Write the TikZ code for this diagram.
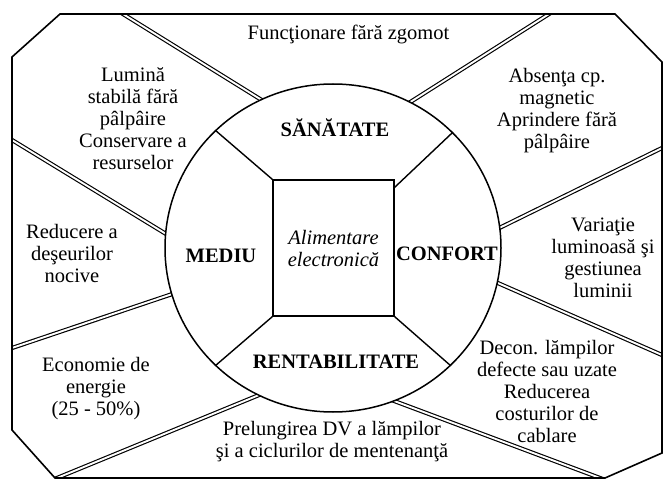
\documentclass[tikz,border=0pt]{standalone}
\usepackage{fontspec}
\setmainfont{Liberation Serif}
\usetikzlibrary{calc,shapes.geometric,backgrounds}
\begin{document}
\begin{tikzpicture}[x=1pt,y=-1pt,
  frame/.style={line width=1.6pt, line join=miter},
  spoke/.style={line width=1.15pt, double=white, double distance=1.9pt},
  rim/.style={draw, line width=1.5pt, fill=white},
  divider/.style={line width=1.4pt},
  txt/.style={align=center, inner sep=0pt, font=\fontsize{20.5}{22}\selectfont},
  head/.style={inner sep=0pt, font=\fontsize{20.5}{22}\selectfont\bfseries},
]
\useasboundingbox (0,0) rectangle (664,481);

% outer octagon corners
\coordinate (o1) at (60,14);
\coordinate (o2) at (615,14);
\coordinate (o3) at (662,62);
\coordinate (o4) at (662,453);
\coordinate (o5) at (605,478);
\coordinate (o6) at (55,478);
\coordinate (o7) at (12,430);
\coordinate (o8) at (12,57);

% outer ends of the double spokes
\coordinate (s1) at (123,14);
\coordinate (s2) at (12,140);
\coordinate (s3) at (12,348);
\coordinate (s4) at (57,478);
\coordinate (s5) at (600,478);
\coordinate (s6) at (662,355);
\coordinate (s7) at (662,148);
\coordinate (s8) at (549,14);

% central disc
\node[rim, ellipse, minimum width=336pt, minimum height=328pt, inner sep=0pt] (hub) at (333,248) {};

% double spokes, behind the disc and trimmed to the frame
\begin{pgfonlayer}{background}
  \begin{scope}
    \clip (o1) -- (o2) -- (o3) -- (o4) -- (o5) -- (o6) -- (o7) -- (o8) -- cycle;
    \foreach \s/\a in {s1/116, s2/175, s3/196.7, s4/243, s5/292, s6/348.2, s7/7.1, s8/62.5}
      \draw[spoke] ($(\s)!-8pt!(hub.\a)$) -- ($(hub.\a)!-8pt!(\s)$);
  \end{scope}
\end{pgfonlayer}

% frame
\draw[frame] (o1) -- (o2) -- (o3) -- (o4) -- (o5) -- (o6) -- (o7) -- (o8) -- cycle;

% inner square and its dividers
\node[draw, line width=1.3pt, minimum width=121pt, minimum height=136pt, inner sep=0pt,
      align=center, font=\fontsize{20.5}{22}\selectfont\itshape] (core) at (333.5,248)
  {Alimentare\\electronică};
\draw[divider] (core.north west) -- (hub.135);
\draw[divider] ($(core.north east)+(0,8)$) -- (hub.44);
\draw[divider] (core.south west) -- (hub.225);
\draw[divider] (core.south east) -- (hub.315);

% sector titles
\node[head, anchor=base] (health)  at (335,137) {SĂNĂTATE};
\node[head, anchor=base] (env)     at (221,262) {MEDIU};
\node[head, anchor=base] (comfort) at (447,260) {CONFORT};
\node[head, anchor=base] (profit)  at (336,368) {RENTABILITATE};

% outer benefits
\node[txt, anchor=base] (quiet) at (348.5,40) {Funcţionare fără zgomot};
\node[txt] (steady) at (133,119) {Lumină\\stabilă fără\\pâlpâire\\Conservare a\\resurselor};
\node[txt] (field)  at (557,111) {Absenţa cp.\\magnetic\\Aprindere fără\\pâlpâire};
\node[txt] (waste)  at (72,253.5) {Reducere a\\deşeurilor\\nocive};
\node[txt] (dimm)   at (603,258) {Variaţie\\luminoasă şi\\gestiunea\\luminii};
\node[txt] (saving) at (96,389) {Economie de\\energie\\(25 - 50\%)};
\node[txt] (lamps)  at (547,391) {Decon. lămpilor\\defecte sau uzate\\Reducerea\\costurilor de\\cablare};
\node[txt] (life)   at (332,441.5) {Prelungirea DV a lămpilor\\şi a ciclurilor de mentenanţă};
\end{tikzpicture}
\end{document}
